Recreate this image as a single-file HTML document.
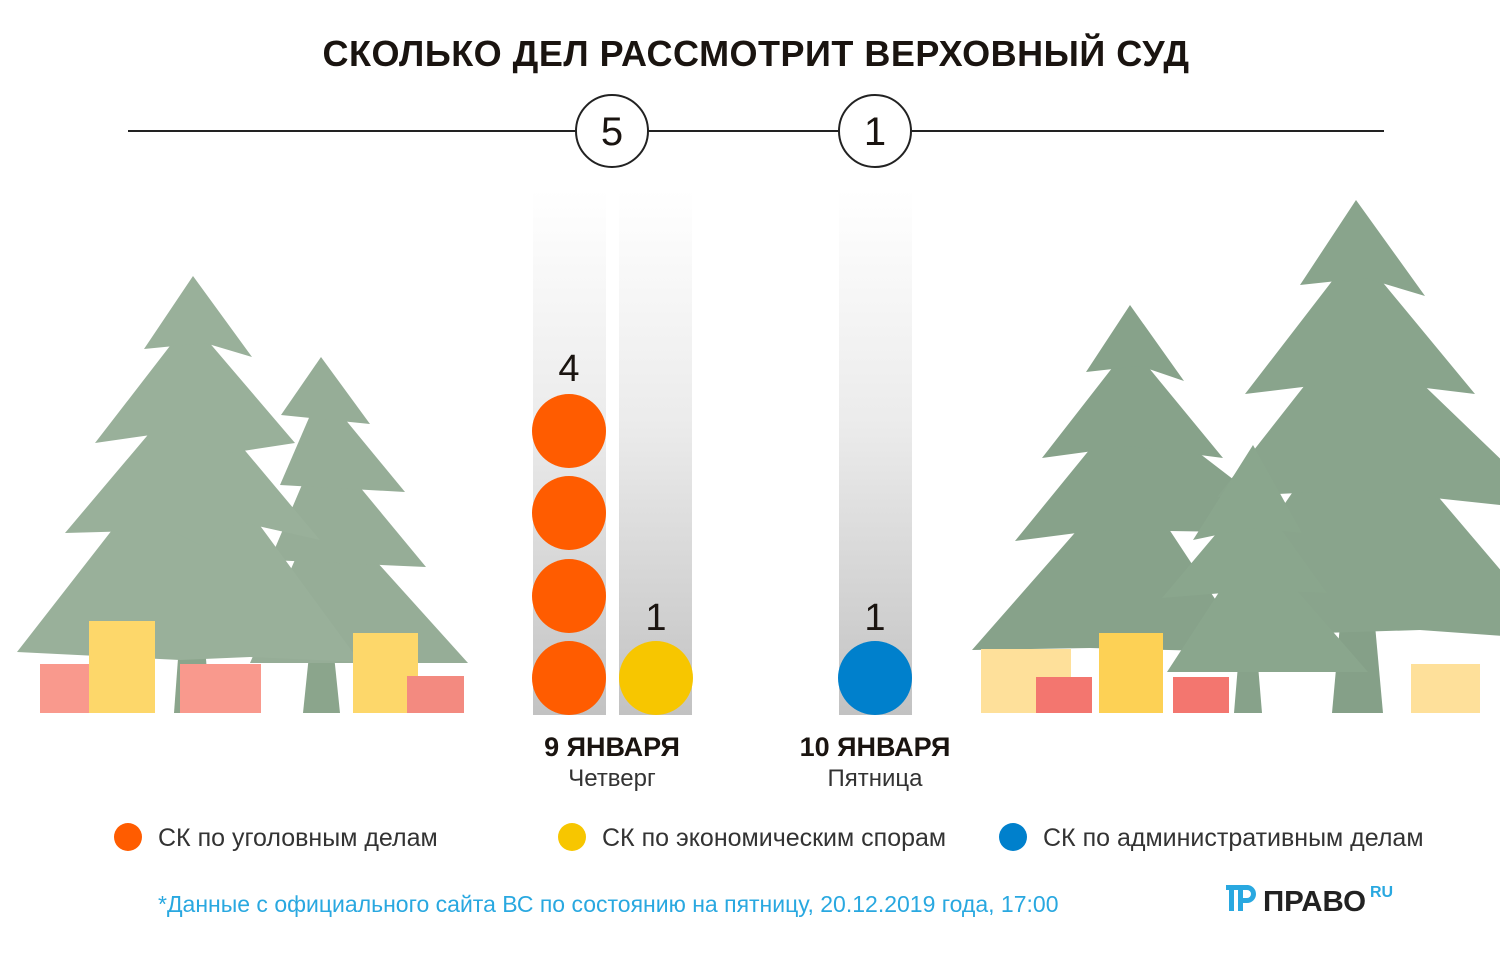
<!DOCTYPE html>
<html><head><meta charset="utf-8"><style>
html,body{margin:0;padding:0;background:#fff;}
svg{display:block;font-family:"Liberation Sans",Arial,sans-serif;}
</style></head><body>
<svg width="1500" height="958" viewBox="0 0 1500 958" xmlns="http://www.w3.org/2000/svg">
<defs>
<linearGradient id="bar" x1="0" y1="0" x2="0" y2="1">
<stop offset="0" stop-color="#ffffff"/><stop offset="0.45" stop-color="#ebebeb"/><stop offset="1" stop-color="#c2c2c2"/>
</linearGradient>
</defs>
<text x="756" y="66" text-anchor="middle" font-size="36" font-weight="bold" fill="#1a1410" letter-spacing="0.5">СКОЛЬКО ДЕЛ РАССМОТРИТ ВЕРХОВНЫЙ СУД</text>
<line x1="128" y1="131" x2="1384" y2="131" stroke="#222" stroke-width="2"/>
<circle cx="612" cy="131" r="36" fill="#fff" stroke="#222" stroke-width="2"/>
<circle cx="875" cy="131" r="36" fill="#fff" stroke="#222" stroke-width="2"/>
<text x="612" y="145" text-anchor="middle" font-size="40" fill="#1a1410">5</text>
<text x="875" y="145" text-anchor="middle" font-size="40" fill="#1a1410">1</text>

<rect x="533" y="190" width="73" height="525" fill="url(#bar)"/>
<rect x="619" y="190" width="73" height="525" fill="url(#bar)"/>
<rect x="839" y="190" width="73" height="525" fill="url(#bar)"/>

<!-- left small tree -->
<g fill="#96ad97">
<polygon points="303,713 309,655 334,655 340,713" fill="#8ba58c"/>
<polygon points="321,500 250,663 468,663"/>
<polygon points="321,440 270,560 426,567"/>
<polygon points="321,390 280,485 405,492"/>
<polygon points="321,357 281,415 370,424"/>
</g>
<!-- left big tree -->
<g fill="#99b09a">
<polygon points="174,713 179,645 205,645 210,713" fill="#8ba58c"/>
<polygon points="190,430 17,652 180,660 250,657 360,662"/>
<polygon points="190,385 65,533 170,530 200,545 240,522 320,540"/>
<polygon points="190,320 95,443 172,432 230,453 295,443"/>
<polygon points="193,276 144,349 205,343 252,357"/>
</g>
<rect x="40" y="664" width="50" height="49" fill="#f9998d"/>
<rect x="89" y="621" width="66" height="92" fill="#fdd76a"/>
<rect x="180" y="664" width="81" height="49" fill="#f9998d"/>
<rect x="353" y="633" width="65" height="80" fill="#fdd76a"/>
<rect x="407" y="676" width="57" height="37" fill="#f38a80"/>

<!-- right tree A -->
<g fill="#87a28a">
<polygon points="1234,713 1238,665 1258,665 1262,713"/>
<polygon points="1130,470 972,650 1090,648 1250,652"/>
<polygon points="1130,400 1015,541 1100,530 1303,533"/>
<polygon points="1130,345 1042,458 1130,446 1223,458"/>
<polygon points="1130,305 1086,372 1140,366 1184,381"/>
</g>
<!-- right tree B -->
<g fill="#89a48c">
<polygon points="1332,713 1340,625 1375,625 1383,713" fill="#85a088"/>
<polygon points="1356,400 1193,637 1420,630 1560,640"/>
<polygon points="1356,320 1217,497 1360,490 1500,505 1540,497"/>
<polygon points="1356,250 1245,394 1360,380 1475,394"/>
<polygon points="1356,200 1300,285 1365,278 1425,296"/>
</g>
<!-- right tree C -->
<g fill="#8aa68d">
<polygon points="1253,540 1167,672 1368,672"/>
<polygon points="1253,490 1162,598 1260,590 1327,593"/>
<polygon points="1253,445 1193,540 1250,528 1302,533"/>
</g>
<rect x="981" y="649" width="90" height="64" fill="#fee09a"/>
<rect x="1036" y="677" width="56" height="36" fill="#f3766f"/>
<rect x="1099" y="633" width="64" height="80" fill="#fdd155"/>
<rect x="1173" y="677" width="56" height="36" fill="#f3766f"/>
<rect x="1411" y="664" width="69" height="49" fill="#fee09a"/>

<!-- circles -->
<g fill="#ff5c00">
<circle cx="569" cy="431" r="37"/><circle cx="569" cy="513" r="37"/>
<circle cx="569" cy="596" r="37"/><circle cx="569" cy="678" r="37"/>
</g>
<circle cx="656" cy="678" r="37" fill="#f7c600"/>
<circle cx="875" cy="678" r="37" fill="#0080cc"/>
<text x="569" y="381" text-anchor="middle" font-size="38" fill="#1a1410">4</text>
<text x="656" y="630" text-anchor="middle" font-size="38" fill="#1a1410">1</text>
<text x="875" y="630" text-anchor="middle" font-size="38" fill="#1a1410">1</text>

<text x="612" y="756" text-anchor="middle" font-size="27" font-weight="bold" fill="#1a1410">9 ЯНВАРЯ</text>
<text x="612" y="786" text-anchor="middle" font-size="24" fill="#333">Четверг</text>
<text x="875" y="756" text-anchor="middle" font-size="27" font-weight="bold" fill="#1a1410">10 ЯНВАРЯ</text>
<text x="875" y="786" text-anchor="middle" font-size="24" fill="#333">Пятница</text>

<circle cx="128" cy="837" r="14" fill="#ff5c00"/>
<text x="158" y="846" font-size="25" fill="#333">СК по уголовным делам</text>
<circle cx="572" cy="837" r="14" fill="#f7c600"/>
<text x="602" y="846" font-size="25" fill="#333">СК по экономическим спорам</text>
<circle cx="1013" cy="837" r="14" fill="#0080cc"/>
<text x="1043" y="846" font-size="25" fill="#333">СК по административным делам</text>

<text x="158" y="912" font-size="23" fill="#29a8e0">*Данные с официального сайта ВС по состоянию на пятницу, 20.12.2019 года, 17:00</text>

<g fill="#29a8e0">
<rect x="1226" y="885" width="22" height="5"/>
<rect x="1229" y="890" width="5" height="21"/>
<rect x="1238" y="890" width="5" height="21"/>
<path d="M1243 885 h4 a9 9 0 0 1 0 18 h-4 v-5 h4 a4 4 0 0 0 0 -8 h-4z"/>
</g>
<text x="1263" y="911" font-size="29" font-weight="bold" fill="#222" textLength="103" lengthAdjust="spacingAndGlyphs">ПРАВО</text>
<text x="1370" y="897" font-size="16" font-weight="bold" fill="#29a8e0">RU</text>
</svg>
</body></html>
